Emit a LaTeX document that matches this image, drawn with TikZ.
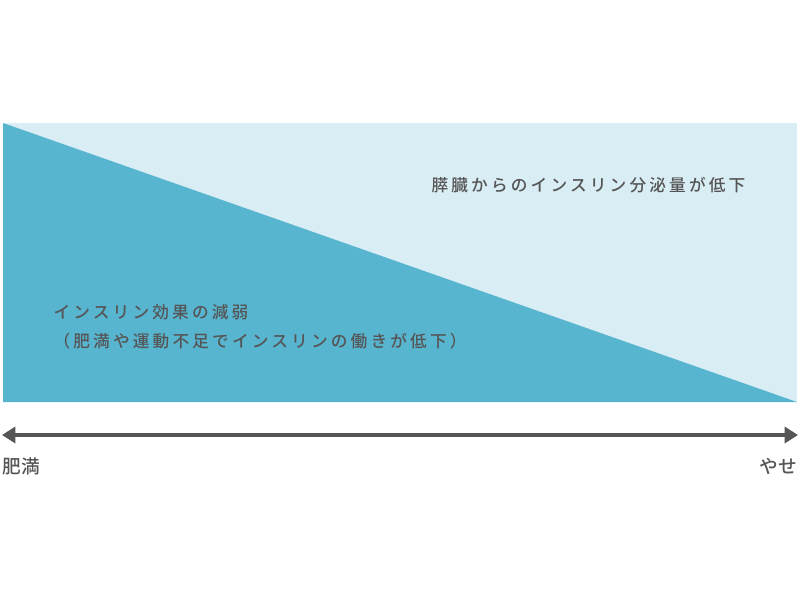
\documentclass[tikz,border=0pt]{standalone}
\usepackage{fontspec}
\newfontfamily\jpfont{Noto Sans CJK JP Medium}[LetterSpace=19]
\newfontfamily\jpendfont{Noto Sans CJK JP Medium}[LetterSpace=3]
\usetikzlibrary{arrows.meta}
\definecolor{paleblue}{RGB}{217,237,244}
\definecolor{deepblue}{RGB}{88,181,208}
\definecolor{textgray}{RGB}{85,85,85}
\tikzset{every picture/.style={line width=0.75pt}}
\tikzset{
  label/.style={font=\jpfont\fontsize{12.5pt}{15pt}\selectfont, text=textgray, inner sep=0pt},
  endlabel/.style={font=\jpendfont\fontsize{14pt}{16pt}\selectfont, text=textgray, inner sep=0pt},
  axis/.style={draw=textgray, line width=3pt, {Triangle[length=10pt,width=12pt]}-{Triangle[length=10pt,width=12pt]}}
}
\begin{document}
\begin{tikzpicture}[x=0.75pt,y=0.75pt,yscale=-1,xscale=1]
	\useasboundingbox (0,0) rectangle (800,600);

	%Shape: Rectangle [id:background]
	\fill [paleblue] (3,123) rectangle (797,402) ;
	%Shape: Right Triangle [id:effect]
	\fill [deepblue] (3,123) -- (797,402) -- (3,402) -- cycle ;

	% Text Node
	\node [label, anchor=west] (secretion) at (431,185) {膵臓からのインスリン分泌量が低下};
	% Text Node
	\node [label, anchor=west] (effect) at (53,312) {インスリン効果の減弱};
	% Text Node
	\node [label, anchor=west] (cause) at (53,341) {（肥満や運動不足でインスリンの働きが低下）};

	%Straight Lines [id:axis]
	\coordinate (obese) at (2,435);
	\coordinate (thin) at (798,435);
	\draw [axis] (obese) -- (thin) ;

	% Text Node
	\node [endlabel, anchor=west] (obeselabel) at (2,466) {肥満};
	% Text Node
	\node [endlabel, anchor=east] (thinlabel) at (798,466) {やせ};

\end{tikzpicture}
\end{document}
